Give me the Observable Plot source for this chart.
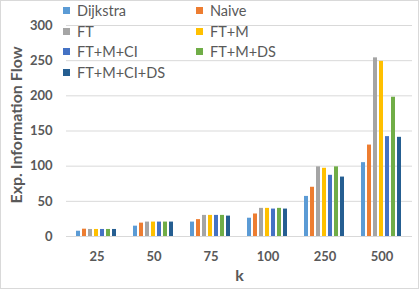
<!DOCTYPE html>
<html><head><meta charset="utf-8">
<script src="https://cdn.jsdelivr.net/npm/d3@7"></script>
<script src="https://cdn.jsdelivr.net/npm/@observablehq/plot@0.6"></script>
<style>
html,body{margin:0;padding:0;background:#fff;}
#wrap{position:relative;width:419px;height:289px;overflow:hidden;font-family:Lato,sans-serif;}
#grid,#chart{position:absolute;left:0;top:0;}
#border{position:absolute;left:0;top:0;width:419px;height:289px;box-sizing:border-box;border:1px solid #d9d9d9;pointer-events:none;}
#legend{position:absolute;left:63px;top:0px;display:grid;grid-template-columns:133px auto;grid-auto-rows:20.7px;font-size:14.5px;color:#595959;}
.item{display:flex;align-items:center;white-space:nowrap;}
.sw{width:7px;height:7px;margin-right:7px;flex:none;}
</style></head>
<body><div id="wrap"><div id="grid"></div><div id="chart"></div><div id="legend"></div><div id="border"></div></div>
<script>
const ks = ["25","50","75","100","250","500"];
const seriesNames = ["Dijkstra","Naive","FT","FT+M","FT+M+CI","FT+M+DS","FT+M+CI+DS"];
const colors = ["#5B9BD5","#ED7D31","#A5A5A5","#FFC000","#4472C4","#70AD47","#255E91"];
const dijkstra = [7.5,14.7,20.5,26,57,105];
const naive    = [10.4,19,24,32,70,130];
const ft       = [10,20.5,30,40,99,254];
const ftm      = [10,20.5,30,40,97,249];
const ftmci    = [10,20.5,30,39,87,142];
const ftmds    = [10,20.5,30,40,99,198];
const ftmcids  = [10,20.5,29,39,84.5,141];
const yTicks = [0,50,100,150,200,250,300];

const seriesValues = [dijkstra,naive,ft,ftm,ftmci,ftmds,ftmcids];
const data = [];
seriesNames.forEach((s,i)=>ks.forEach((k,j)=>data.push({k, s, v: seriesValues[i][j]})));

const common = {
  width: 419, height: 289,
  marginLeft: 66, marginRight: 7, marginTop: 25, marginBottom: 53,
  style: {fontFamily: "Lato, sans-serif", color: "#595959", background: "transparent"},
  y: {domain: [0,300]}
};

const grid = Plot.plot({
  ...common,
  x: {axis: null},
  marks: [
    Plot.ruleY(yTicks, {stroke: "#d9d9d9", strokeWidth: 1}),
    Plot.axisY(yTicks, {tickSize: 0, tickPadding: 14, fontSize: 13, fontWeight: "bold", fill: "#595959",
      label: "Exp. Information Flow", labelAnchor: "center", labelArrow: "none", labelOffset: 56})
  ]
});
document.getElementById("grid").appendChild(grid);

const chart = Plot.plot({
  ...common,
  fx: {domain: ks, paddingInner: 0.21, paddingOuter: 0.105},
  x: {domain: seriesNames, paddingInner: 0.3, paddingOuter: 0, axis: null},
  color: {domain: seriesNames, range: colors},
  marks: [
    Plot.barY(data, {fx: "k", x: "s", y: "v", fill: "s"}),
    Plot.axisY({ticks: [], label: null}),
    Plot.axisFx({anchor: "bottom", tickSize: 0, tickPadding: 15, fontSize: 13, fontWeight: "bold", fill: "#595959",
      label: "k", labelAnchor: "center", labelOffset: 44})
  ]
});
document.getElementById("chart").appendChild(chart);

[grid, chart].forEach(svg => {
  svg.querySelectorAll("[aria-label$='axis label']").forEach(g => {
    g.setAttribute("font-weight","bold");
    g.querySelectorAll("text").forEach(t=>t.setAttribute("font-weight","bold"));
  });
});
const yl = grid.querySelector("[aria-label='y-axis label']");
if (yl) { yl.setAttribute("font-size","16"); yl.querySelectorAll("text").forEach(t=>t.setAttribute("dx","6")); }
const fl = chart.querySelector("[aria-label='fx-axis label']");
if (fl) { fl.setAttribute("font-size","16"); }

const legend = document.getElementById("legend");
seriesNames.forEach((s,i)=>{
  const d = document.createElement("div"); d.className="item";
  const sw = document.createElement("span"); sw.className="sw"; sw.style.background=colors[i];
  const t = document.createElement("span"); t.textContent = s;
  d.appendChild(sw); d.appendChild(t); legend.appendChild(d);
});
</script></body></html>
